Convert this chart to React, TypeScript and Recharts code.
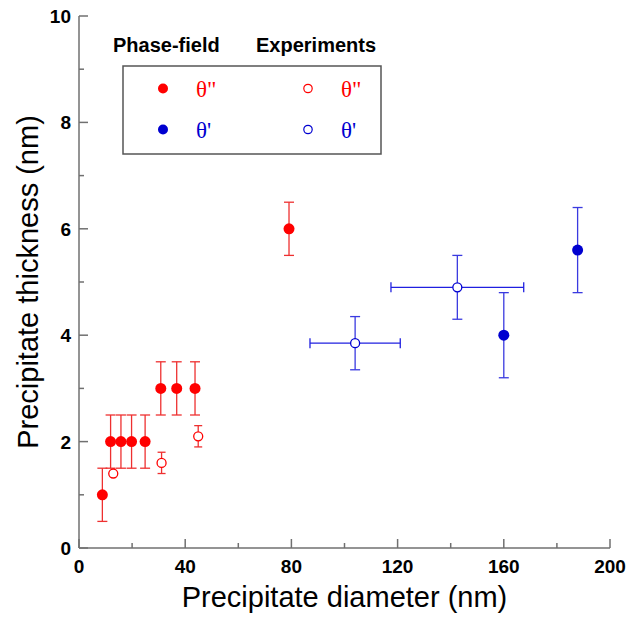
import React from 'react';
import { ScatterChart, Scatter, XAxis, YAxis, ErrorBar } from 'recharts';

// phase-field, theta'' (filled red)
const pfDDx = [8.8, 11.9, 15.8, 19.8, 24.9, 30.8, 36.8, 43.7, 79.1];
const pfDDy = [1, 2, 2, 2, 2, 3, 3, 3, 6];
const pfDDerr = [0.5, 0.5, 0.5, 0.5, 0.5, 0.5, 0.5, 0.5, 0.5];

// experiments, theta'' (open red)
const exDDx = [12.9, 31.1, 44.9];
const exDDy = [1.4, 1.6, 2.1];
const exDDerr = [0, 0.2, 0.2];

// phase-field, theta' (filled blue)
const pfPx = [160, 187.8];
const pfPy = [4, 5.6];
const pfPerr = [0.8, 0.8];

// experiments, theta' (open blue)
const exPx = [104, 142.5];
const exPy = [3.85, 4.9];
const exPerrY = [0.5, 0.6];
const exPerrX = [17, 25];

const xTicks = [0, 20, 40, 60, 80, 100, 120, 140, 160, 180, 200];
const yTicks = [0, 1, 2, 3, 4, 5, 6, 7, 8, 9, 10];

const RED = '#ff0000';
const BLUE = '#0000d0';
const AXIS = '#707070';
const SANS = '"Liberation Sans", Arial, Helvetica, sans-serif';
const SERIF = '"Liberation Serif", "Times New Roman", serif';

const build = (xs: number[], ys: number[], ey: number[], ex?: number[]) =>
  xs.map((x, i) => ({ x, y: ys[i], ey: ey[i], ex: ex ? ex[i] : 0 }));

const filled = (color: string) => (p: any) => <circle cx={p.cx} cy={p.cy} r={5.5} fill={color} />;
const open = (color: string) => (p: any) => (
  <circle cx={p.cx} cy={p.cy} r={4.5} fill="#fff" stroke={color} strokeWidth={1.3} />
);

const tickText = { fontFamily: SANS, fontSize: 19, fontWeight: 700, fill: '#000' };

function BottomTick(p: any) {
  const major = p.payload.value % 40 === 0;
  return (
    <g>
      <line x1={p.x} y1={p.y} x2={p.x} y2={p.y - (major ? 9 : 5)} stroke={AXIS} strokeWidth={1.5} />
      {major && (
        <text x={p.x} y={p.y + 25} textAnchor="middle" style={tickText}>
          {p.payload.value}
        </text>
      )}
    </g>
  );
}

function TopTick(p: any) {
  const major = p.payload.value % 40 === 0;
  return <line x1={p.x} y1={p.y} x2={p.x} y2={p.y + (major ? 9 : 5)} stroke={AXIS} strokeWidth={1.5} />;
}

function LeftTick(p: any) {
  const major = p.payload.value % 2 === 0;
  return (
    <g>
      <line x1={p.x} y1={p.y} x2={p.x + (major ? 9 : 5)} y2={p.y} stroke={AXIS} strokeWidth={1.5} />
      {major && (
        <text x={p.x - 8} y={p.y + 7} textAnchor="end" style={tickText}>
          {p.payload.value}
        </text>
      )}
    </g>
  );
}

function RightTick(p: any) {
  const major = p.payload.value % 2 === 0;
  return <line x1={p.x} y1={p.y} x2={p.x - (major ? 9 : 5)} y2={p.y} stroke={AXIS} strokeWidth={1.5} />;
}

const legendRows = [
  { label: 'θ"', color: RED, cy: 88.5 },
  { label: "θ'", color: BLUE, cy: 129.5 },
];

export default function App() {
  const axisLine = { stroke: AXIS, strokeWidth: 1.5 };
  return (
    <div style={{ position: 'absolute', left: 0, top: 0, width: 629, height: 619, background: '#fff' }}>
      <ScatterChart width={629} height={619} margin={{ top: 16, right: 19, bottom: 0, left: 0 }}>
        <XAxis
          xAxisId="b"
          dataKey="x"
          type="number"
          domain={[0, 200]}
          ticks={xTicks}
          interval={0}
          height={71}
          tickSize={0}
          tickMargin={0}
          tickLine={false}
          axisLine={axisLine}
          tick={BottomTick}
          label={{
            content: ({ viewBox }: any) => (
              <text
                x={viewBox.x + viewBox.width / 2}
                y={viewBox.y + 59}
                textAnchor="middle"
                style={{ fontFamily: SANS, fontSize: 29, fill: '#000' }}
              >
                Precipitate diameter (nm)
              </text>
            ),
          }}
        />
        <XAxis
          xAxisId="t"
          orientation="top"
          type="number"
          domain={[0, 200]}
          ticks={xTicks}
          interval={0}
          height={0}
          tickSize={0}
          tickMargin={0}
          tickLine={false}
          axisLine={axisLine}
          tick={TopTick}
        />
        <YAxis
          yAxisId="l"
          dataKey="y"
          type="number"
          domain={[0, 10]}
          ticks={yTicks}
          interval={0}
          width={79}
          tickSize={0}
          tickMargin={0}
          tickLine={false}
          axisLine={axisLine}
          tick={LeftTick}
          label={{
            content: ({ viewBox }: any) => {
              const cx = viewBox.x + 38;
              const cy = viewBox.y + viewBox.height / 2;
              return (
                <text
                  x={cx}
                  y={cy}
                  transform={`rotate(-90 ${cx} ${cy})`}
                  textAnchor="middle"
                  style={{ fontFamily: SANS, fontSize: 29, fill: '#000' }}
                >
                  Precipitate thickness (nm)
                </text>
              );
            },
          }}
        />
        <YAxis
          yAxisId="r"
          orientation="right"
          type="number"
          domain={[0, 10]}
          ticks={yTicks}
          interval={0}
          width={0}
          tickSize={0}
          tickMargin={0}
          tickLine={false}
          axisLine={axisLine}
          tick={RightTick}
        />

        <Scatter xAxisId="b" yAxisId="l" data={build(pfDDx, pfDDy, pfDDerr)} shape={filled(RED)} isAnimationActive={false}>
          <ErrorBar dataKey="ey" direction="y" width={5} stroke="#ee3030" strokeWidth={1.3} />
        </Scatter>
        <Scatter xAxisId="b" yAxisId="l" data={build(exDDx, exDDy, exDDerr)} shape={open(RED)} isAnimationActive={false}>
          <ErrorBar dataKey="ey" direction="y" width={4} stroke="#ee3030" strokeWidth={1.3} />
        </Scatter>
        <Scatter xAxisId="b" yAxisId="l" data={build(pfPx, pfPy, pfPerr)} shape={filled(BLUE)} isAnimationActive={false}>
          <ErrorBar dataKey="ey" direction="y" width={5} stroke="#3a3ae0" strokeWidth={1.3} />
        </Scatter>
        <Scatter xAxisId="b" yAxisId="l" data={build(exPx, exPy, exPerrY, exPerrX)} shape={open(BLUE)} isAnimationActive={false}>
          <ErrorBar dataKey="ey" direction="y" width={5} stroke="#3a3ae0" strokeWidth={1.3} />
          <ErrorBar dataKey="ex" direction="x" width={5} stroke="#2020e0" strokeWidth={1.3} />
        </Scatter>
      </ScatterChart>

      <svg width={629} height={619} style={{ position: 'absolute', left: 0, top: 0, pointerEvents: 'none' }}>
        <text x={113} y={52} style={{ fontFamily: SANS, fontSize: 20, fontWeight: 700 }}>
          Phase-field
        </text>
        <text x={256} y={52} style={{ fontFamily: SANS, fontSize: 20, fontWeight: 700 }}>
          Experiments
        </text>
        <rect x={123} y={66} width={258} height={88} fill="none" stroke="#555" strokeWidth={1.5} />
        {legendRows.map((r) => (
          <g key={r.label}>
            <circle cx={163} cy={r.cy} r={5} fill={r.color} />
            <text x={196} y={r.cy + 8} fill={r.color} style={{ fontFamily: SERIF, fontSize: 23 }}>
              {r.label}
            </text>
            <circle cx={308} cy={r.cy} r={4.2} fill="#fff" stroke={r.color} strokeWidth={1.2} />
            <text x={341} y={r.cy + 8} fill={r.color} style={{ fontFamily: SERIF, fontSize: 23 }}>
              {r.label}
            </text>
          </g>
        ))}
      </svg>
    </div>
  );
}
